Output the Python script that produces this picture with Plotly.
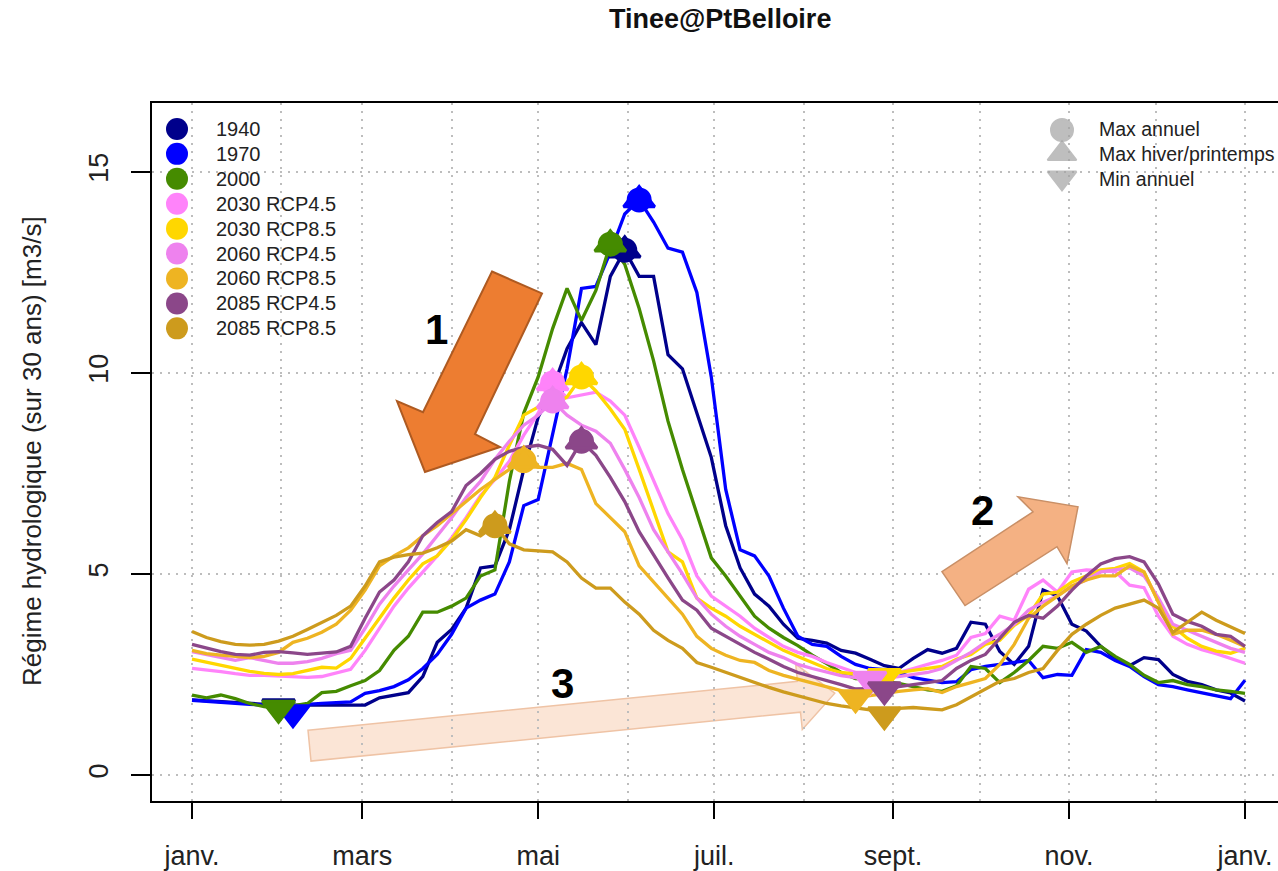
import numpy as np
import pandas as pd
import plotly.graph_objects as go

# ---------------------------------------------------------------------------
# Régime hydrologique interannuel (pas de 5 jours, 1er janv. -> 1er janv.)
# ---------------------------------------------------------------------------
dates = pd.date_range("2001-01-01", periods=74, freq="5D")

series_names = ["1940", "1970", "2000", "2030 RCP4.5", "2030 RCP8.5",
                "2060 RCP4.5", "2060 RCP8.5", "2085 RCP4.5", "2085 RCP8.5"]
series_colors = ["#00008B", "#0000FF", "#458B00", "#FF83FA", "#FFD700",
                 "#EE82EE", "#EEB422", "#8B4789", "#CD9B1D"]

q1940 = [1.87, 1.85, 1.82, 1.80, 1.78, 1.76, 1.70, 1.74, 1.74, 1.74,
         1.74, 1.73, 1.74, 1.92, 1.98, 2.05, 2.45, 3.30, 3.62, 4.15,
         5.15, 5.20, 6.10, 7.60, 8.90, 9.60, 10.60, 11.25, 10.70, 12.40,
         13.05, 12.40, 12.40, 10.45, 10.10, 9.00, 7.90, 6.20, 5.15, 4.50,
         4.20, 3.75, 3.40, 3.35, 3.28, 3.10, 3.03, 2.88, 2.72, 2.65,
         2.90, 3.12, 3.03, 3.15, 3.80, 3.75, 3.07, 2.75, 3.20, 4.60,
         4.45, 3.75, 3.58, 3.20, 2.90, 2.72, 2.92, 2.87, 2.50, 2.33,
         2.25, 2.12, 2.04, 1.84]
q1970 = [1.86, 1.83, 1.80, 1.78, 1.76, 1.74, 1.72, 1.55, 1.76, 1.78,
         1.79, 1.82, 2.03, 2.10, 2.20, 2.37, 2.65, 3.00, 3.50, 4.15,
         4.35, 4.50, 5.30, 6.70, 6.85, 8.50, 10.10, 12.10, 12.15, 13.00,
         13.95, 14.30, 13.75, 13.10, 13.00, 12.00, 9.90, 7.10, 5.60, 5.45,
         4.95, 4.15, 3.45, 3.25, 3.20, 2.95, 2.75, 2.65, 2.62, 2.55,
         2.42, 2.36, 2.30, 2.32, 2.62, 2.70, 2.75, 2.80, 2.85, 2.42,
         2.50, 2.48, 3.12, 3.05, 2.85, 2.70, 2.45, 2.25, 2.20, 2.12,
         2.05, 1.98, 1.90, 2.36]
q2000 = [1.99, 1.92, 1.99, 1.90, 1.78, 1.70, 1.66, 1.72, 1.78, 2.05,
         2.08, 2.22, 2.35, 2.60, 3.10, 3.45, 4.05, 4.05, 4.20, 4.40,
         4.95, 5.10, 7.30, 9.00, 9.90, 11.10, 12.10, 11.30, 12.05, 13.20,
         12.70, 11.60, 10.30, 8.80, 7.60, 6.50, 5.40, 4.95, 4.45, 3.95,
         3.65, 3.42, 3.22, 2.98, 2.77, 2.55, 2.40, 2.38, 2.33, 2.28,
         2.20, 2.12, 2.08, 2.22, 2.70, 2.65, 2.30, 2.55, 2.85, 3.20,
         3.15, 3.30, 3.05, 3.20, 2.95, 2.75, 2.48, 2.30, 2.35, 2.25,
         2.20, 2.12, 2.08, 2.03]
q2030_45 = [2.65, 2.62, 2.57, 2.52, 2.48, 2.48, 2.47, 2.46, 2.43, 2.45,
            2.53, 2.63, 3.10, 3.65, 4.20, 4.65, 5.05, 5.45, 5.90, 6.40,
            6.95, 7.35, 7.80, 8.45, 9.00, 9.75, 9.38, 9.45, 9.52, 9.30,
            8.95, 8.15, 7.30, 6.50, 5.85, 4.95, 4.45, 4.20, 3.95, 3.65,
            3.42, 3.20, 3.05, 2.95, 2.80, 2.68, 2.55, 2.36, 2.45, 2.55,
            2.65, 2.75, 2.85, 2.98, 3.42, 3.52, 3.95, 3.85, 4.62, 4.85,
            4.55, 5.05, 5.10, 5.08, 5.06, 4.72, 4.66, 3.95, 3.45, 3.25,
            3.12, 3.02, 2.90, 2.78]
q2030_85 = [2.88, 2.80, 2.72, 2.65, 2.58, 2.53, 2.50, 2.52, 2.60, 2.68,
            2.66, 2.90, 3.40, 3.90, 4.40, 4.85, 5.25, 5.45, 5.85, 6.35,
            6.90, 7.40, 8.20, 8.95, 9.15, 9.20, 9.40, 9.90, 9.55, 9.10,
            8.60, 7.60, 6.55, 5.55, 5.30, 4.40, 4.15, 3.95, 3.70, 3.50,
            3.30, 3.10, 2.95, 2.80, 2.65, 2.55, 2.50, 2.47, 2.45, 2.55,
            2.60, 2.65, 2.70, 2.88, 3.00, 3.25, 3.35, 3.72, 3.97, 4.50,
            4.55, 4.80, 4.96, 5.10, 5.14, 5.26, 5.05, 4.30, 3.70, 3.40,
            3.20, 3.08, 3.03, 3.15]
q2060_45 = [3.07, 3.00, 2.93, 2.85, 2.92, 2.85, 2.78, 2.78, 2.82, 2.90,
            3.02, 3.10, 3.65, 4.25, 4.70, 5.10, 5.50, 5.95, 6.40, 6.90,
            7.30, 7.85, 8.30, 8.70, 8.95, 9.30, 8.95, 8.70, 8.55, 8.25,
            7.60, 6.90, 6.10, 5.55, 5.00, 4.40, 4.00, 3.70, 3.45, 3.25,
            3.05, 2.92, 2.75, 2.65, 2.55, 2.47, 2.42, 2.38, 2.40, 2.45,
            2.50, 2.55, 2.65, 2.85, 3.05, 3.30, 3.50, 3.75, 4.10, 4.30,
            4.45, 4.70, 4.85, 5.05, 5.10, 5.15, 4.95, 4.40, 3.75, 3.60,
            3.45, 3.30, 3.15, 3.05]
q2060_85 = [3.10, 3.02, 2.98, 2.95, 2.92, 2.95, 3.05, 3.30, 3.40, 3.55,
            3.75, 4.10, 4.60, 5.20, 5.45, 5.65, 5.95, 6.20, 6.50, 6.80,
            7.10, 7.35, 7.60, 7.82, 7.65, 7.65, 7.75, 7.60, 6.75, 6.40,
            6.05, 5.20, 4.80, 4.40, 4.00, 3.45, 3.15, 2.98, 2.85, 2.80,
            2.60, 2.48, 2.38, 2.30, 2.20, 2.10, 1.92, 1.98, 2.02, 2.08,
            2.12, 2.15, 2.05, 2.20, 2.30, 2.40, 2.75, 3.25, 3.90, 4.20,
            4.45, 4.70, 4.85, 4.95, 4.95, 5.20, 5.05, 4.30, 3.50, 3.60,
            3.60, 3.50, 3.35, 3.20]
q2085_45 = [3.25, 3.15, 3.07, 3.00, 2.98, 3.05, 3.07, 3.04, 3.00, 3.03,
            3.06, 3.20, 3.90, 4.55, 4.85, 5.30, 5.95, 6.28, 6.55, 7.20,
            7.50, 7.85, 8.05, 8.15, 8.20, 8.10, 7.70, 8.30, 7.95, 7.40,
            6.80, 6.05, 5.46, 4.90, 4.35, 4.10, 3.65, 3.45, 3.25, 3.05,
            2.88, 2.70, 2.55, 2.45, 2.37, 2.25, 2.14, 2.15, 2.12, 2.20,
            2.25, 2.30, 2.35, 2.65, 2.85, 3.00, 3.40, 3.80, 3.97, 3.90,
            4.20, 4.60, 4.95, 5.25, 5.38, 5.43, 5.30, 4.75, 4.00, 3.82,
            3.70, 3.50, 3.45, 3.20]
q2085_85 = [3.57, 3.42, 3.32, 3.25, 3.23, 3.25, 3.33, 3.45, 3.62, 3.80,
            3.97, 4.20, 4.70, 5.30, 5.42, 5.48, 5.52, 5.65, 5.82, 6.10,
            5.95, 6.20, 5.75, 5.60, 5.57, 5.55, 5.30, 4.90, 4.65, 4.65,
            4.30, 4.00, 3.60, 3.35, 3.15, 2.80, 2.68, 2.55, 2.42, 2.30,
            2.18, 2.07, 1.97, 1.88, 1.78, 1.72, 1.67, 1.62, 1.50, 1.66,
            1.68, 1.65, 1.62, 1.75, 1.95, 2.15, 2.33, 2.40, 2.55, 2.65,
            3.10, 3.50, 3.75, 3.97, 4.15, 4.25, 4.35, 4.15, 3.55, 3.80,
            4.05, 3.85, 3.68, 3.52]

series_values = [q1940, q1970, q2000, q2030_45, q2030_85,
                 q2060_45, q2060_85, q2085_45, q2085_85]

# Axis ticks
x_tick_dates = ["2001-01-01", "2001-03-01", "2001-05-01", "2001-07-01",
                "2001-09-01", "2001-11-01", "2002-01-01"]
x_tick_labels = ["janv.", "mars", "mai", "juil.", "sept.", "nov.", "janv."]
month_starts = pd.date_range("2001-01-01", "2002-01-01", freq="MS")
y_tick_vals = [0, 5, 10, 15]

marker_legend = ["Max annuel", "Max hiver/printemps", "Min annuel"]

# ---------------------------------------------------------------------------
# Page geometry (pixels)
# ---------------------------------------------------------------------------
W, H = 1278, 871
PL, PR, PT, PB = 152, 1278, 103, 803          # plot frame
X_JAN0, X_JAN1 = 192, 1245                     # 1 Jan -> 1 Jan pixels
t0 = pd.Timestamp("2001-01-01")
px_per_day = (X_JAN1 - X_JAN0) / 365.0
x_range = [t0 + pd.Timedelta(days=(PL - X_JAN0) / px_per_day),
           t0 + pd.Timedelta(days=(PR - X_JAN0) / px_per_day)]
y_range = [-0.645, 16.71]


def px(xp):
    return (xp - PL) / (PR - PL)


def py(yp):
    return (PB - yp) / (PB - PT)


FONT = "Liberation Sans, Arial, sans-serif"
GRID = "#BDBDBD"
GRID_DASH = "2px,6px"

fig = go.Figure()

# Hydrographs
for name, vals, col in zip(series_names, series_values, series_colors):
    fig.add_trace(go.Scatter(x=dates, y=vals, mode="lines", name=name,
                             line=dict(color=col, width=3.3),
                             showlegend=False, hoverinfo="skip"))

# Max annuel / max hiver-printemps / min annuel markers
spring = dates < pd.Timestamp("2001-07-01")
for name, vals, col in zip(series_names, series_values, series_colors):
    v = np.asarray(vals)
    i_max = int(np.argmax(v))
    i_spr = int(np.argmax(np.where(spring, v, -np.inf)))
    i_min = int(np.argmin(v))
    fig.add_trace(go.Scatter(x=[dates[i_max]], y=[v[i_max]], mode="markers",
                             marker=dict(symbol="circle", size=23, color=col,
                                         line=dict(color=col, width=2)),
                             showlegend=False, hoverinfo="skip"))
    fig.add_trace(go.Scatter(x=[dates[i_spr]], y=[v[i_spr]], mode="markers",
                             marker=dict(symbol="triangle-up", size=27, color=col,
                                         line=dict(color=col, width=3)),
                             showlegend=False, hoverinfo="skip"))
    fig.add_trace(go.Scatter(x=[dates[i_min]], y=[v[i_min]], mode="markers",
                             marker=dict(symbol="triangle-down", size=28, color=col,
                                         line=dict(color=col, width=3)),
                             showlegend=False, hoverinfo="skip"))

# Legend symbols on a pixel overlay
leg_y = [129 + 25 * i for i in range(len(series_names))]
fig.add_trace(go.Scatter(x=[177] * len(series_names), y=leg_y, mode="markers",
                         xaxis="x2", yaxis="y2", cliponaxis=False,
                         marker=dict(symbol="circle", size=22, color=series_colors),
                         showlegend=False, hoverinfo="skip"))
fig.add_trace(go.Scatter(x=[1062, 1062, 1062], y=[130, 154, 178], mode="markers",
                         xaxis="x2", yaxis="y2", cliponaxis=False,
                         marker=dict(symbol=["circle", "triangle-up", "triangle-down"],
                                     size=[22, 25, 25], color="#A3A3A3",
                                     line=dict(color="#A3A3A3", width=2)),
                         showlegend=False, hoverinfo="skip"))

annotations = []
for name, yy in zip(series_names, leg_y):
    annotations.append(dict(x=px(214), y=py(yy), xref="paper", yref="paper",
                            text=name, showarrow=False, xanchor="left",
                            yanchor="middle", font=dict(size=20, color="#222222")))
for name, yy in zip(marker_legend, [129, 154, 179]):
    annotations.append(dict(x=px(1097), y=py(yy), xref="paper", yref="paper",
                            text=name, showarrow=False, xanchor="left",
                            yanchor="middle", font=dict(size=19.5, color="#222222")))

# Title and y-axis label
annotations.append(dict(x=px(720), y=py(19), xref="paper", yref="paper",
                        text="<b>Tinee@PtBelloire</b>", showarrow=False,
                        xanchor="center", yanchor="middle",
                        font=dict(size=27, color="#111111")))
annotations.append(dict(x=px(32), y=py(452), xref="paper", yref="paper",
                        text="Régime hydrologique (sur 30 ans) [m3/s]",
                        textangle=-90, showarrow=False, xanchor="center",
                        yanchor="middle", font=dict(size=26, color="#222222")))

# Arrow numbers
for label, (xx, yy) in zip(["1", "2", "3"], [(436, 330), (982, 512), (562, 685)]):
    annotations.append(dict(x=px(xx), y=py(yy), xref="paper", yref="paper",
                            text="<b>%s</b>" % label, showarrow=False,
                            xanchor="center", yanchor="middle",
                            font=dict(size=42, color="black", family=FONT)))


def poly_path(points):
    return "M " + " L ".join("%.5f,%.5f" % (px(a), py(b)) for a, b in points) + " Z"


arrow1 = [(492, 272), (542, 294), (475, 435), (500, 448), (425, 473),
          (397, 402), (423, 413)]
arrow2 = [(942, 573), (1033, 513), (1018, 498), (1078, 508), (1067, 565),
          (1057, 548), (965, 607)]
arrow3 = [(308, 732), (797.5, 683), (795.7, 665.7), (834.8, 694.9),
          (802.3, 731.3), (800.5, 713.9), (311, 763)]

shapes = [
    dict(type="path", path=poly_path(arrow3), xref="paper", yref="paper",
         fillcolor="#FBE5D6", line=dict(color="#EFC3A5", width=1.5), layer="below"),
    dict(type="path", path=poly_path(arrow1), xref="paper", yref="paper",
         fillcolor="#ED7D31", line=dict(color="#AE5A21", width=2), layer="above"),
    dict(type="path", path=poly_path(arrow2), xref="paper", yref="paper",
         fillcolor="#F4B183", line=dict(color="#C98F66", width=1.5), layer="above"),
]

fig.update_layout(
    width=W, height=H,
    margin=dict(l=PL, r=W - PR, t=PT, b=H - PB),
    paper_bgcolor="white", plot_bgcolor="rgba(0,0,0,0)",
    showlegend=False,
    font=dict(family=FONT, color="#222222"),
    annotations=annotations,
    shapes=shapes,
    xaxis=dict(type="date", range=x_range, tickmode="array",
               tickvals=x_tick_dates, ticktext=x_tick_labels,
               ticks="outside", ticklen=16, tickwidth=1.5, tickcolor="black",
               ticklabelstandoff=14,
               tickfont=dict(size=27, color="#222222"),
               showline=True, linecolor="black", linewidth=2, mirror=True,
               showgrid=True, gridcolor=GRID, gridwidth=1.5, griddash=GRID_DASH,
               minor=dict(tickmode="array", tickvals=list(month_starts),
                          showgrid=True, gridcolor=GRID, gridwidth=1.5,
                          griddash=GRID_DASH, ticks=""),
               zeroline=False, fixedrange=True),
    yaxis=dict(range=y_range, tickmode="array", tickvals=y_tick_vals,
               ticks="outside", ticklen=19, tickwidth=1.5, tickcolor="black",
               ticklabelstandoff=12,
               tickangle=-90, tickfont=dict(size=27, color="#222222"),
               showline=True, linecolor="black", linewidth=2, mirror=False,
               showgrid=True, gridcolor=GRID, gridwidth=1.5, griddash=GRID_DASH,
               zeroline=False, fixedrange=True),
    xaxis2=dict(overlaying="x", range=[PL, PR], visible=False, fixedrange=True),
    yaxis2=dict(overlaying="y", range=[PB, PT], visible=False, fixedrange=True),
)

fig.write_html("out.html")
